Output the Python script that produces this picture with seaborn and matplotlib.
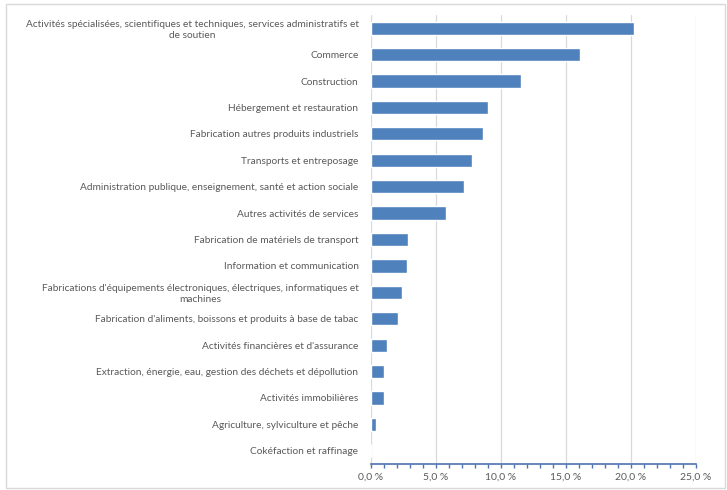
import matplotlib
matplotlib.use("Agg")
import matplotlib.pyplot as plt
import matplotlib.patches as mpatches
from matplotlib.ticker import MultipleLocator, FuncFormatter
import seaborn as sns
import pandas as pd

# Data (share of total, in %)
categories = [
    "Activités spécialisées, scientifiques et techniques, services administratifs et\nde soutien",
    "Commerce",
    "Construction",
    "Hébergement et restauration",
    "Fabrication autres produits industriels",
    "Transports et entreposage",
    "Administration publique, enseignement, santé et action sociale",
    "Autres activités de services",
    "Fabrication de matériels de transport",
    "Information et communication",
    "Fabrications d'équipements électroniques, électriques, informatiques et\nmachines",
    "Fabrication d'aliments, boissons et produits à base de tabac",
    "Activités financières et d'assurance",
    "Extraction, énergie, eau, gestion des déchets et dépollution",
    "Activités immobilières",
    "Agriculture, sylviculture et pêche",
    "Cokéfaction et raffinage",
]
values = [20.2, 16.1, 11.5, 9.0, 8.6, 7.8, 7.15, 5.8, 2.85, 2.8, 2.4, 2.05,
          1.25, 1.0, 1.0, 0.4, 0.0]

x_ticks = [0, 5, 10, 15, 20, 25]

sns.set_theme(style="white")
plt.rcParams['font.family'] = ['Lato', 'DejaVu Sans']

df = pd.DataFrame({"secteur": categories, "part": values})

fig = plt.figure(figsize=(7.27, 4.90), dpi=100)
ax = fig.add_axes([371 / 727, 1 - 464 / 490, 325 / 727, 449 / 490])

# outer frame
fig.patches.append(mpatches.Rectangle((6 / 727, 0.004), 719 / 727, 1 - 4 / 490 - 0.004,
                                      transform=fig.transFigure, fill=False,
                                      edgecolor="#d9d9d9", linewidth=1.0))

sns.barplot(data=df, x="part", y="secteur", color="#4f81bd", width=0.5,
            saturation=1, ax=ax, zorder=3)

ax.set_xlim(0, 25)
ax.set_xticks(x_ticks)
ax.xaxis.set_minor_locator(MultipleLocator(1))
ax.xaxis.set_major_formatter(FuncFormatter(lambda v, p: f"{v:.1f}".replace(".", ",") + "\u00a0%"))
ax.grid(axis="x", color="#d9d9d9", linewidth=0.9, zorder=0)
ax.set_xlabel("")
ax.set_ylabel("")

for s in ["top", "right", "left"]:
    ax.spines[s].set_visible(False)
ax.spines["bottom"].set_color("#4f72b0")
ax.spines["bottom"].set_linewidth(1.2)

ax.tick_params(axis="x", which="both", direction="out", colors="#4f72b0",
               labelcolor="#595959", labelsize=7.5, bottom=True)
ax.tick_params(axis="x", which="major", length=3, width=1)
ax.tick_params(axis="x", which="minor", length=3, width=1)
ax.tick_params(axis="y", length=0, labelsize=7.3, labelcolor="#595959", pad=9)
for lbl in ax.get_yticklabels():
    lbl.set_multialignment("center")

fig.savefig("out.png", dpi=100)
